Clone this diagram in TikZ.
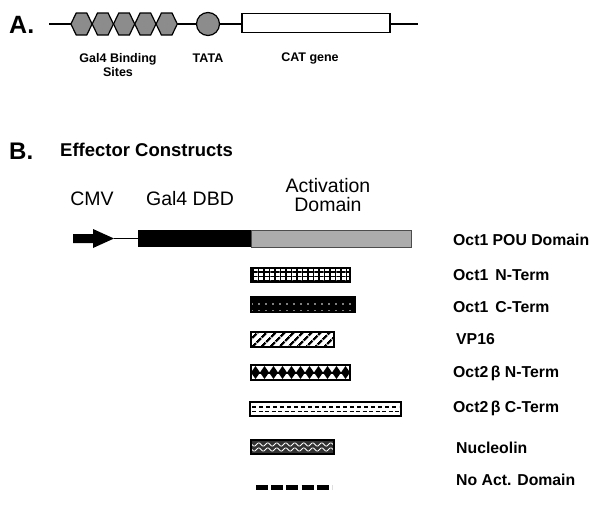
\documentclass[tikz,border=0pt]{standalone}
\usepackage{fontspec}
\setmainfont{Liberation Sans}
\usetikzlibrary{patterns.meta}

\begin{document}
\begin{tikzpicture}[x=1pt, y=-1pt,
  sitelbl/.style={font=\fontsize{12.5}{14}\selectfont\bfseries, align=center, inner sep=0pt},
  hdtxt/.style={font=\fontsize{19.5}{19}\selectfont, align=center, inner sep=0pt},
  domlbl/.style={font=\fontsize{15.8}{16}\selectfont\bfseries, anchor=west, inner sep=0pt},
  bar/.style={draw=black, line width=1.2pt}]

\useasboundingbox (0,0) rectangle (600,514);

% panel A: reporter
\node[font=\fontsize{25}{26}\selectfont\bfseries, anchor=west, inner sep=0pt] (A) at (9,25) {A.};
\coordinate (a0) at (49,24);
\coordinate (a1) at (418,24);
\draw[line width=2.8pt] (a0) -- (a1);

% Gal4 binding sites
\foreach \i in {0,...,4}{
  \pgfmathsetmacro{\cx}{81.5+21.3*\i}
  \draw[fill=black!45, line width=1.2pt]
    (\cx-10.6,24) -- (\cx-5.3,13) -- (\cx+5.3,13) -- (\cx+10.6,24)
    -- (\cx+5.3,35) -- (\cx-5.3,35) -- cycle;
}
\node[circle, draw, fill=black!45, line width=1.2pt, minimum size=23pt, inner sep=0pt] (tata) at (208,24) {};
\node[rectangle, draw, fill=white, line width=1.2pt, minimum width=148pt, minimum height=19pt, inner sep=0pt] (cat) at (316,23) {};

\node[sitelbl] (gal4) at (118,65) {Gal4 Binding\\Sites};
\node[sitelbl] (tatal) at (208,58) {TATA};
\node[sitelbl] (catl) at (310,58) {CAT gene};

% panel B: effectors
\node[font=\fontsize{24}{26}\selectfont\bfseries, anchor=west, inner sep=0pt] (B) at (9,151) {B.};
\node[hdtxt, font=\fontsize{18.5}{20}\selectfont\bfseries, anchor=west] (eff) at (60,150) {Effector Constructs};

\node[hdtxt] (cmv) at (92,199) {CMV};
\node[hdtxt] (dbd) at (190,199) {Gal4 DBD};
\node[hdtxt] (act) at (328,195) {Activation\\Domain};

% promoter arrow
\fill (73,234) -- (93,234) -- (93,229) -- (114,238.5) -- (93,248) -- (93,243) -- (73,243) -- cycle;
\coordinate (p0) at (114,238.5);
\node[rectangle, fill=black, minimum width=113pt, minimum height=17pt, inner sep=0pt] (gal) at (194.5,238.5) {};
\node[rectangle, draw=black!70, fill=gray!65, line width=1pt, minimum width=160pt, minimum height=17pt, inner sep=0pt, anchor=west] (pou) at (gal.east) {};
\draw[line width=1.4pt] (p0) -- (gal.west);

% activation domains
\draw[bar, fill=white] (251,268) rectangle (350,282);
\fill[pattern={Lines[angle=0, distance=4.4pt, line width=1.3pt]}] (251,268) rectangle (350,282);
\fill[pattern={Lines[angle=90, distance=5.5pt, line width=1.3pt]}] (251,268) rectangle (350,282);
\draw[bar] (251,268) rectangle (350,282);

\draw[bar, fill=black] (251,297) rectangle (355,312);
\fill[pattern={Dots[distance=7pt, radius=0.9pt]}, pattern color=white] (251,297) rectangle (355,312);
\draw[bar] (251,297) rectangle (355,312);

\fill[white] (251,332) rectangle (334,347);
\fill[pattern={Lines[angle=45, distance=6.5pt, line width=2.4pt]}] (251,332) rectangle (334,347);
\draw[bar] (251,332) rectangle (334,347);

\fill[white] (251,365) rectangle (350,380);
\draw[line width=2pt] (251,372.5) -- (350,372.5);
\foreach \i in {0,...,10}{
  \pgfmathsetmacro{\dx}{255.5+9*\i}
  \fill (\dx-4.5,372.5) -- (\dx,366) -- (\dx+4.5,372.5) -- (\dx,379) -- cycle;
}
\draw[bar] (251,365) rectangle (350,380);

\draw[bar, fill=white] (250,402) rectangle (401,416);
\draw[line width=1.3pt, dash pattern=on 4pt off 3pt] (252,407) -- (399,407);
\draw[line width=1.8pt, dash pattern=on 4pt off 2.5pt] (252,411.5) -- (399,411.5);

\fill[black!80] (251,440) rectangle (334,454);
\foreach \yy in {444.5,449.5}
  \draw[white, line width=0.8pt] plot[domain=252:333, samples=120, variable=\t] (\t, {\yy+1.6*sin(40*\t)});
\draw[bar] (251,440) rectangle (334,454);

\coordinate (n0) at (256,487.5);
\coordinate (n1) at (332,487.5);
\draw[line width=5pt, dash pattern=on 12pt off 3.2pt] (n0) -- (n1);

% labels
\node[domlbl] (l1) at (453,240) {Oct1 POU Domain};
\node[domlbl] (l2) at (453,275) {Oct1\, N-Term};
\node[domlbl] (l3) at (453,307) {Oct1\, C-Term};
\node[domlbl] (l4) at (456,339) {VP16};
\node[domlbl] (l5) at (453,373) {Oct2\,β N-Term};
\node[domlbl] (l6) at (453,408) {Oct2\,β C-Term};
\node[domlbl] (l7) at (456,448) {Nucleolin};
\node[domlbl] (l8) at (456,480) {No Act. Domain};

\end{tikzpicture}
\end{document}
